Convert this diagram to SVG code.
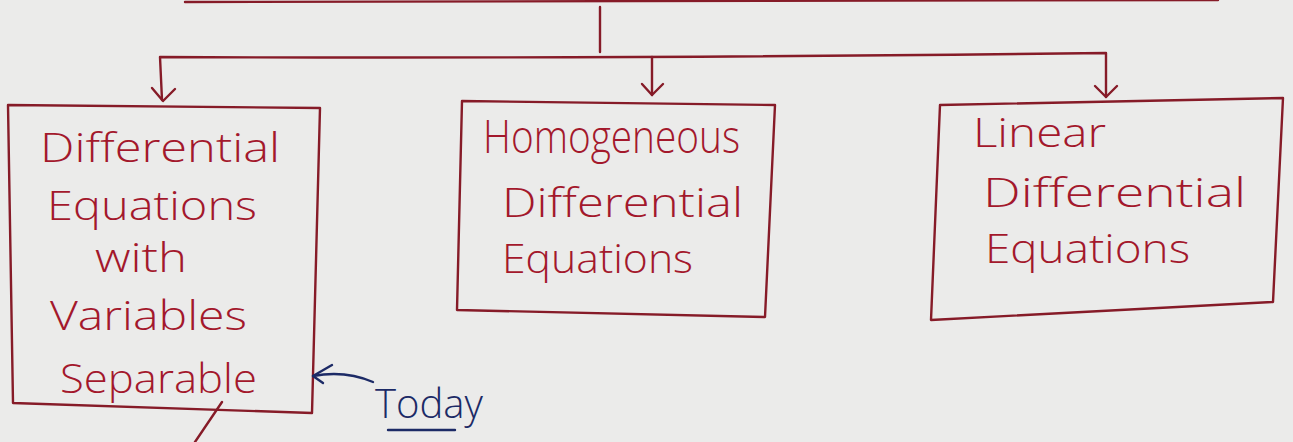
<svg xmlns="http://www.w3.org/2000/svg" width="1293" height="442" viewBox="0 0 1293 442">
<style>
.pen{fill:none;stroke:#861b28;stroke-width:2.4;stroke-linecap:round;stroke-linejoin:round}
.blue{fill:none;stroke:#1c2a66;stroke-width:2.4;stroke-linecap:round;stroke-linejoin:round}
.t{font-family:"Open Sans","Liberation Sans",sans-serif;font-weight:300;font-size:40px;fill:#a3182c}
.tb{font-family:"Open Sans","Liberation Sans",sans-serif;font-weight:300;font-size:40px;fill:#1c2a66}
</style>
<rect width="1293" height="442" fill="#ebebea"/>
<g id="connectors">
<path class="pen" d="M185,2 L1218,0"/>
<path class="pen" d="M600,7 L600,52"/>
<path class="pen" d="M162,100 L160,57 Q600,59 1106,53 L1106,97"/>
<path class="pen" d="M652,57 L652,95"/>
<path class="pen" d="M152,88 L163,101 L175,89"/>
<path class="pen" d="M642,84 L652,95 L663,84"/>
<path class="pen" d="M1095,86 L1106,97 L1117,86"/>
<path class="pen" d="M222,402 L195,442"/>
</g>
<g id="node-box1">
<path class="pen" d="M8,105 L320,108 L312,413 L13,403 Z"/>
<text class="t" x="40" y="162" textLength="240" lengthAdjust="spacingAndGlyphs">Differential</text>
<text class="t" x="47" y="220" textLength="210" lengthAdjust="spacingAndGlyphs">Equations</text>
<text class="t" x="95" y="272" textLength="92" lengthAdjust="spacingAndGlyphs">with</text>
<text class="t" x="50" y="330" textLength="197" lengthAdjust="spacingAndGlyphs">Variables</text>
<text class="t" x="60" y="393" textLength="197" lengthAdjust="spacingAndGlyphs">Separable</text>
</g>
<g id="node-box2">
<path class="pen" d="M462,101 L775,105 L765,317 L457,310 Z"/>
<text class="t" x="483" y="153" textLength="257" lengthAdjust="spacingAndGlyphs" style="font-size:46px">Homogeneous</text>
<text class="t" x="502" y="217" textLength="241" lengthAdjust="spacingAndGlyphs">Differential</text>
<text class="t" x="502" y="273" textLength="191" lengthAdjust="spacingAndGlyphs">Equations</text>
</g>
<g id="node-box3">
<path class="pen" d="M940,105 L1283,98 L1273,302 L931,320 Z"/>
<text class="t" x="973" y="147" textLength="133" lengthAdjust="spacingAndGlyphs">Linear</text>
<text class="t" x="983" y="207" textLength="263" lengthAdjust="spacingAndGlyphs">Differential</text>
<text class="t" x="985" y="263" textLength="205" lengthAdjust="spacingAndGlyphs">Equations</text>
</g>
<g id="node-today">
<path class="blue" d="M373,382 Q345,370 313,376"/>
<path class="blue" d="M332,365 L313,376 L323,383"/>
<text class="tb" x="375" y="418" textLength="108" lengthAdjust="spacingAndGlyphs">Today</text>
<path class="blue" d="M388,430 L455,430"/>
</g>
</svg>
